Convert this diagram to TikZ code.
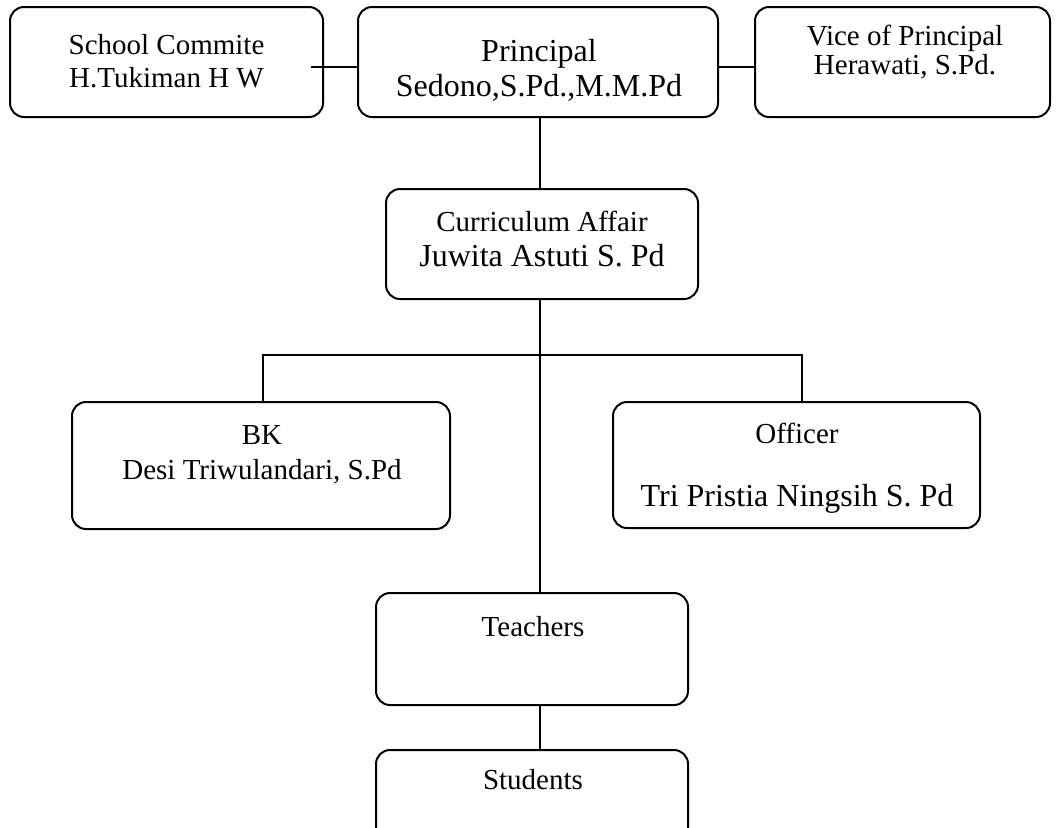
\documentclass[tikz,border=0pt]{standalone}
\usepackage{fontspec}
\setmainfont{Liberation Serif}
\usetikzlibrary{fit}
\tikzset{
    box/.style={draw, rounded corners=7pt, line width=1pt, inner sep=0pt},
    txt/.style={align=center, inner sep=0pt, font=\fontsize{14.5}{17.5}\selectfont},
    big/.style={font=\fontsize{16}{17.5}\selectfont},
    link/.style={line width=0.9pt},
  }
\begin{document}
\begin{tikzpicture}[x=0.5pt, y=-0.5pt]
	%page frame, students box runs off the bottom
	\useasboundingbox (0,0) rectangle (1059,827);
	\clip (0,0) rectangle (1059,827);
	%boxes
	\node[box, fit={(10,7) (323,117)}] (school) {};
	\node[box, fit={(358,7) (718,117)}] (princ) {};
	\node[box, fit={(755,7) (1050,117)}] (vice) {};
	\node[box, fit={(386,189) (698,299)}] (curr) {};
	\node[box, fit={(72,402) (450,529)}] (bk) {};
	\node[box, fit={(613,402) (980,528)}] (officer) {};
	\node[box, fit={(376,593) (688,705)}] (teach) {};
	\node[box, fit={(376,750) (688,862)}] (stud) {};
	%texts
	\node[txt, font=\fontsize{14.5}{16.5}\selectfont] (schoolT) at (166.5,61.5) {School Commite\\H.Tukiman H W};
	\node[txt, big] (princT) at (539,70.5) {Principal\\Sedono,S.Pd.,M.M.Pd};
	\node[txt, font=\fontsize{14.5}{14.5}\selectfont] (viceT) at (905,52.5) {Vice of Principal\\Herawati, S.Pd.};
	\node[txt] (currT) at (542,239.5) {Curriculum Affair\\{\fontsize{16}{17.5}\selectfont Juwita Astuti S. Pd}};
	\node[txt] (bkT) at (262,454.5) {BK\\Desi Triwulandari, S.Pd};
	\node[txt] (officerT) at (797,468.5) {Officer\\[14pt]{\fontsize{16}{17.5}\selectfont Tri Pristia Ningsih S. Pd}};
	\node[txt] (teachT) at (533,627) {Teachers};
	\node[txt] (studT) at (533,780) {Students};
	%connectors
	\coordinate (sp) at (311,67);
	\coordinate (trunk) at (540,0);
	\coordinate (bar) at (0,355);
	\coordinate (bkTop) at (263,402);
	\coordinate (offTop) at (802,402);
	\draw[link] (sp) -- (sp -| princ.west);
	\draw[link] (sp -| princ.east) -- (sp -| vice.west);
	\draw[link] (trunk |- princ.south) -- (trunk |- curr.north);
	\draw[link] (trunk |- curr.south) -- (trunk |- teach.north);
	\draw[link] (bkTop) -- (bkTop |- bar) -- (offTop |- bar) -- (offTop);
	\draw[link] (trunk |- teach.south) -- (trunk |- stud.north);
\end{tikzpicture}
\end{document}
